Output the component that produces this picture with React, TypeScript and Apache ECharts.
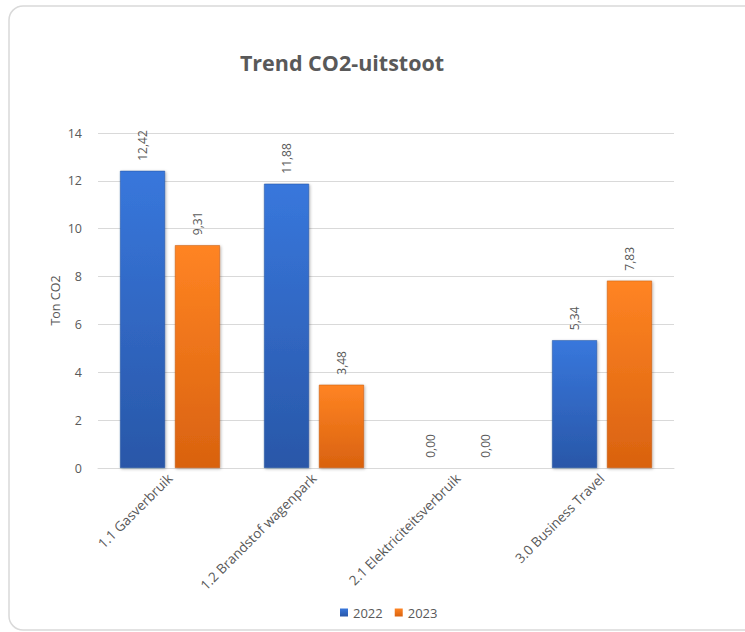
import React, { useEffect, useRef } from "react";
import * as echarts from "echarts";

const categories = [
  "1.1 Gasverbruik",
  "1.2 Brandstof wagenpark",
  "2.1 Elektriciteitsverbruik",
  "3.0 Business Travel",
];
const values2022 = [12.42, 11.88, 0.0, 5.34];
const values2023 = [9.31, 3.48, 0.0, 7.83];
const seriesNames = ["2022", "2023"];

const FONT = "'Open Sans', 'Noto Sans', sans-serif";
const TEXT = "#595959";

export default function App() {
  const ref = useRef<HTMLDivElement>(null);
  useEffect(() => {
    document.body.style.margin = "0";
    const chart = echarts.init(ref.current!, null, { renderer: "svg" });
    const labelOpt = {
      show: true,
      position: "top",
      rotate: 90,
      align: "left",
      verticalAlign: "middle",
      distance: 10,
      color: TEXT,
      fontSize: 12,
      fontFamily: FONT,
      formatter: (p: any) => Number(p.value).toFixed(2).replace(".", ","),
    };
    const blue = new echarts.graphic.LinearGradient(0, 0, 0, 1, [
      { offset: 0, color: "#3877dc" },
      { offset: 1, color: "#2957a8" },
    ]);
    const orange = new echarts.graphic.LinearGradient(0, 0, 0, 1, [
      { offset: 0, color: "#ff8423" },
      { offset: 1, color: "#d9620f" },
    ]);
    chart.setOption({
      animation: false,
      backgroundColor: "#ffffff",
      graphic: [
        {
          type: "rect",
          shape: { x: 9, y: 6, width: 780, height: 624, r: 14 },
          style: { fill: "#ffffff", stroke: "#d9d9d9", lineWidth: 1.5 },
          z: -10,
        },
      ],
      title: {
        text: "Trend CO2-uitstoot",
        left: 337,
        top: 46,
        textAlign: "center",
        textStyle: {
          color: TEXT,
          fontSize: 21.5,
          fontWeight: "bold",
          fontFamily: FONT,
        },
      },
      legend: {
        data: seriesNames,
        left: 335,
        top: 601,
        icon: "rect",
        itemWidth: 8,
        itemHeight: 8,
        itemGap: 12,
        itemStyle: { borderWidth: 0 },
        textStyle: { color: TEXT, fontSize: 13, fontFamily: FONT },
      },
      grid: { left: 98, right: 71, top: 133, bottom: 164 },
      xAxis: {
        type: "category",
        data: categories,
        axisLine: { lineStyle: { color: "#d9d9d9", width: 1 } },
        axisTick: { show: false },
        axisLabel: {
          rotate: 45,
          color: TEXT,
          fontSize: 13.5,
          fontFamily: FONT,
          margin: 8,
          interval: 0,
        },
      },
      yAxis: {
        type: "value",
        min: 0,
        max: 14,
        interval: 2,
        name: "Ton CO2",
        nameLocation: "middle",
        nameRotate: 90,
        nameGap: 36,
        nameMoveOverlap: false,
        nameTextStyle: { color: TEXT, fontSize: 12.5, fontFamily: FONT },
        axisLine: { show: false },
        axisTick: { show: false },
        axisLabel: { color: TEXT, fontSize: 12.5, fontFamily: FONT, margin: 16 },
        splitLine: { lineStyle: { color: "#d9d9d9", width: 1 } },
      },
      series: [
        {
          name: seriesNames[0],
          type: "bar",
          data: values2022,
          barWidth: 45,
          barGap: "22%",
          itemStyle: {
            color: blue,
            borderColor: "#24509c",
            borderWidth: 0.5,
            shadowColor: "rgba(0,0,0,0.3)",
            shadowBlur: 3,
            shadowOffsetX: 1,
            shadowOffsetY: 1,
          },
          label: labelOpt,
        },
        {
          name: seriesNames[1],
          type: "bar",
          data: values2023,
          barWidth: 45,
          itemStyle: {
            color: orange,
            borderColor: "#c0560d",
            borderWidth: 0.5,
            shadowColor: "rgba(0,0,0,0.3)",
            shadowBlur: 3,
            shadowOffsetX: 1,
            shadowOffsetY: 1,
          },
          label: labelOpt,
        },
      ],
    });
    return () => chart.dispose();
  }, []);
  return (
    <div
      ref={ref}
      style={{ position: "absolute", left: 0, top: 0, width: 745, height: 632 }}
    />
  );
}
